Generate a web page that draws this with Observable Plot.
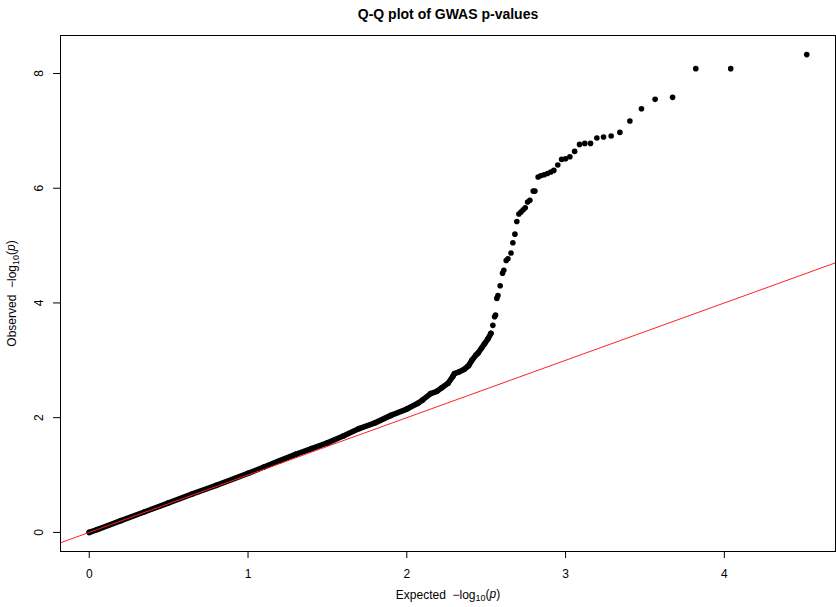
<!DOCTYPE html>
<html><head><meta charset="utf-8">
<script src="https://cdn.jsdelivr.net/npm/d3@7"></script>
<script src="https://cdn.jsdelivr.net/npm/@observablehq/plot@0.6"></script>
<style>body{margin:0;background:#fff} svg{display:block}</style>
</head><body><div id="chart"></div>
<script>
const title = "Q-Q plot of GWAS p-values";
const xLabel = ["Expected  \u2212log", "10", "p"];
const yLabel = ["Observed  \u2212log", "10", "p"];
const xTicks = [0, 1, 2, 3, 4];
const yTicks = [0, 2, 4, 6, 8];
const xDomain = [-0.181, 4.70];
const yDomain = [-0.333, 8.663];

// dense part of the Q-Q curve (points overlap into a band)
const bandExpected = [0.00, 0.05, 0.20, 0.35, 0.50, 0.65, 0.80, 1.00, 1.10, 1.20, 1.30, 1.40, 1.50, 1.60, 1.70, 1.80, 1.90, 2.00, 2.07, 2.10, 2.15, 2.19, 2.22, 2.26, 2.29, 2.30, 2.33, 2.36, 2.39, 2.41, 2.435, 2.45, 2.47, 2.49, 2.51, 2.53];
const bandObserved = [0.00, 0.05, 0.205, 0.36, 0.515, 0.67, 0.82, 1.03, 1.14, 1.25, 1.36, 1.46, 1.56, 1.68, 1.81, 1.91, 2.04, 2.15, 2.25, 2.31, 2.42, 2.46, 2.52, 2.60, 2.72, 2.77, 2.80, 2.84, 2.91, 3.00, 3.09, 3.13, 3.21, 3.29, 3.37, 3.47];

// sparse tail (individual points)
const tailExpected = [2.542, 2.553, 2.559, 2.567, 2.574, 2.588, 2.603, 2.611, 2.626, 2.637, 2.656, 2.668, 2.681, 2.693, 2.706, 2.719, 2.733, 2.746, 2.761, 2.775, 2.796, 2.807, 2.827, 2.844, 2.865, 2.886, 2.907, 2.926, 2.951, 2.975, 3.000, 3.027, 3.057, 3.088, 3.121, 3.157, 3.197, 3.239, 3.287, 3.342, 3.405, 3.478, 3.564, 3.674, 3.820, 4.040, 4.519];
const tailObserved = [3.61, 3.76, 3.79, 4.08, 4.13, 4.30, 4.52, 4.57, 4.74, 4.77, 4.87, 5.05, 5.20, 5.42, 5.55, 5.585, 5.625, 5.66, 5.76, 5.79, 5.95, 5.95, 6.195, 6.218, 6.236, 6.258, 6.283, 6.311, 6.405, 6.503, 6.515, 6.55, 6.642, 6.764, 6.782, 6.782, 6.876, 6.893, 6.911, 6.974, 7.173, 7.387, 7.55, 7.585, 8.085, 8.085, 8.33];

const ablineIntercept = 0, ablineSlope = 1;

const band = bandExpected.map((e, i) => ({e, o: bandObserved[i]}));
const tail = tailExpected.map((e, i) => ({e, o: tailObserved[i]}));
const abline = xDomain.map(e => ({e, o: ablineIntercept + ablineSlope * e}));

const plot = Plot.plot({
  width: 836, height: 607,
  marginLeft: 60, marginRight: 1, marginTop: 35, marginBottom: 56,
  style: {fontFamily: "'Liberation Sans', Arial, Helvetica, sans-serif", fontSize: "12px", background: "white", color: "black"},
  x: {domain: xDomain, label: null},
  y: {domain: yDomain, label: null},
  marks: [
    Plot.line(band, {x: "e", y: "o", stroke: "black", strokeWidth: 5.6, strokeLinecap: "round", strokeLinejoin: "round"}),
    Plot.dot(band, {x: "e", y: "o", r: 2.8, fill: "black"}),
    Plot.dot(tail, {x: "e", y: "o", r: 2.8, fill: "black"}),
    Plot.line(abline, {x: "e", y: "o", stroke: "#ff2020", strokeWidth: 1}),
    Plot.frame({stroke: "black", strokeWidth: 1}),
    Plot.axisX(xTicks, {tickSize: 7, tickPadding: 11, fontSize: 12, stroke: "black", tickFormat: d => String(d)}),
    Plot.axisY(yTicks, {tickSize: 7, tickFormat: () => "", stroke: "black"}),
    Plot.text(yTicks, {y: d => d, text: d => String(d), frameAnchor: "left", dx: -21, rotate: -90, textAnchor: "middle", lineAnchor: "middle", fontSize: 12}),
    Plot.text([title], {frameAnchor: "top", dy: -26, fontWeight: "bold", fontSize: 14}),
    Plot.text([xLabel[0]], {frameAnchor: "bottom", dy: 47, fontSize: 12, textAnchor: "middle"}),
    Plot.text([yLabel[0]], {frameAnchor: "left", dx: -48, rotate: -90, fontSize: 12, textAnchor: "middle"})
  ]
});
document.getElementById("chart").appendChild(plot);

function richLabel(parts) {
  const t = d3.select(plot).selectAll("text").filter(function() { return this.textContent === parts[0]; });
  t.text(null);
  t.append("tspan").text(parts[0]);
  t.append("tspan").attr("font-size", 9).attr("dy", "0.3em").text(parts[1]);
  t.append("tspan").attr("dy", "-0.3em").text("(");
  t.append("tspan").attr("font-style", "italic").text(parts[2]);
  t.append("tspan").text(")");
}
richLabel(xLabel);
richLabel(yLabel);
</script>
</body></html>
